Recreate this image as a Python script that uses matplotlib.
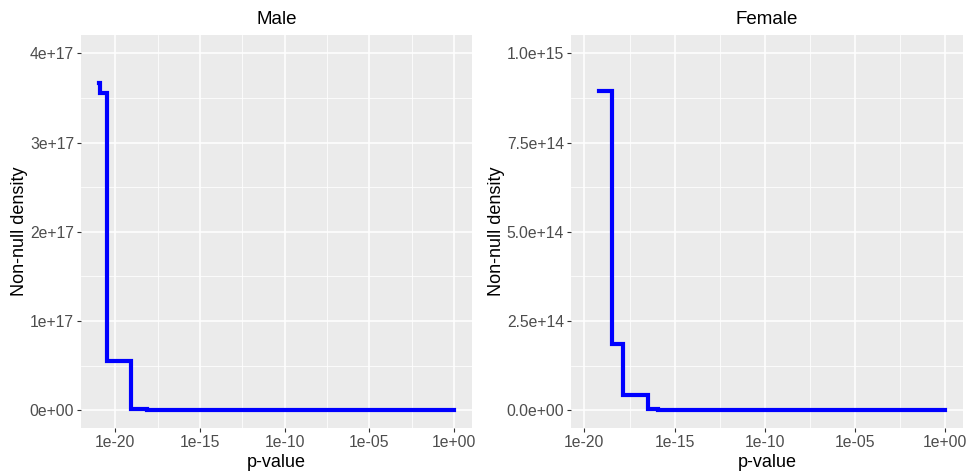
import matplotlib
matplotlib.use("Agg")
import matplotlib.pyplot as plt
import numpy as np

plt.rcParams["font.family"] = ["Liberation Sans", "DejaVu Sans"]

# step curves: p-value breakpoints (log10) and non-null density levels
male_log_p = [-20.93, -20.92, -20.47, -19.07, -18.10, 0.0]
male_density = [3.67e17, 3.56e17, 0.55e17, 0.02e17, 0.0, 0.0]

female_log_p = [-19.17, -18.48, -17.84, -16.45, -15.93, 0.0]
female_density = [8.96e14, 1.87e14, 0.44e14, 0.045e14, 0.0, 0.0]

x_ticks = [-20, -15, -10, -5, 0]
x_labels = ["1e-20", "1e-15", "1e-10", "1e-05", "1e+00"]
male_yticks = [0, 1e17, 2e17, 3e17, 4e17]
male_ylabels = ["0e+00", "1e+17", "2e+17", "3e+17", "4e+17"]
female_yticks = [0, 2.5e14, 5e14, 7.5e14, 1e15]
female_ylabels = ["0.0e+00", "2.5e+14", "5.0e+14", "7.5e+14", "1.0e+15"]

panels = [
    ("Male", male_log_p, male_density, male_yticks, male_ylabels,
     [0.0836, 0.097, 0.4035, 0.829], (-22.02, 1.06), (-0.198e17, 4.205e17)),
    ("Female", female_log_p, female_density, female_yticks, female_ylabels,
     [0.5893, 0.097, 0.4045, 0.829], (-20.74, 0.98), (-0.0495e15, 1.0513e15)),
]

fig = plt.figure(figsize=(9.69, 4.74), dpi=100)

for title, lp, dens, yt, yl, rect, xlim, ylim in panels:
    ax = fig.add_axes(rect)
    ax.set_facecolor("#EBEBEB")
    for s in ax.spines.values():
        s.set_visible(False)

    # minor grid at midpoints
    for xm in np.arange(-22.5, 2, 5):
        ax.axvline(xm, color="white", lw=0.55, zorder=0)
    for i in range(len(yt) - 1):
        ax.axhline((yt[i] + yt[i + 1]) / 2, color="white", lw=0.55, zorder=0)
    for xv in x_ticks:
        ax.axvline(xv, color="white", lw=1.1, zorder=0)
    for yv in yt:
        ax.axhline(yv, color="white", lw=1.1, zorder=0)

    ax.plot(lp, dens, drawstyle="steps-post", color="blue", lw=3.0,
            solid_joinstyle="miter", zorder=3)

    ax.set_xlim(*xlim)
    ax.set_ylim(*ylim)
    ax.set_xticks(x_ticks)
    ax.set_xticklabels(x_labels)
    ax.set_yticks(yt)
    ax.set_yticklabels(yl)
    ax.tick_params(axis="both", colors="#333333", length=3, width=0.8,
                   labelsize=11.3, labelcolor="#4D4D4D", pad=2)
    ax.set_xlabel("p-value", fontsize=13, color="black", labelpad=3)
    ax.set_ylabel("Non-null density", fontsize=13, color="black", labelpad=1)
    ax.set_title(title, fontsize=13.5, color="black", pad=8)

fig.savefig("out.png", dpi=100)
